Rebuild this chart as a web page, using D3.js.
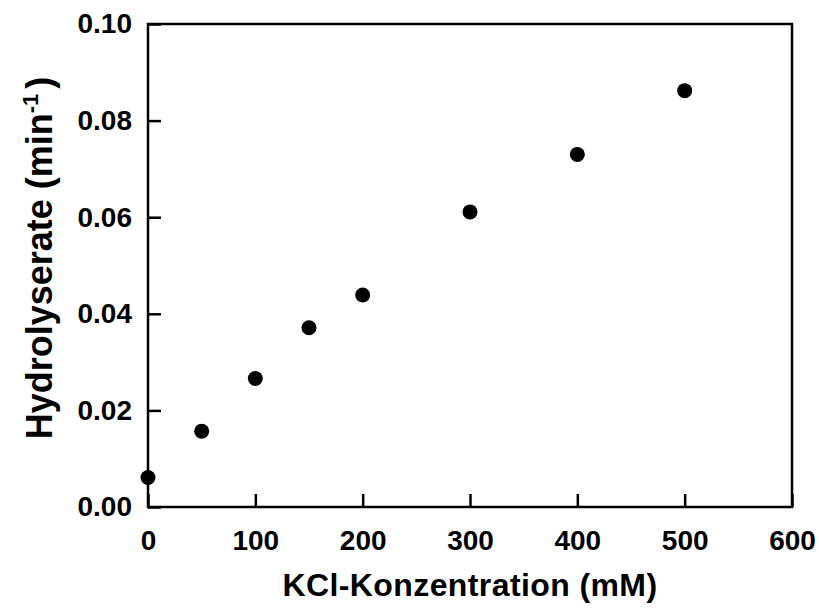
<!DOCTYPE html>
<html>
<head>
<meta charset="utf-8">
<script src="https://cdn.jsdelivr.net/npm/d3@7"></script>
<style>
  body { margin: 0; background: #fff; }
  svg text { font-family: "Liberation Sans", Arial, sans-serif; font-weight: bold; fill: #000; }
</style>
</head>
<body>
<div id="chart"></div>
<script>
// KCl concentration (mM) and hydrolysis rate (1/min)
const kcl = [0, 50, 100, 150, 200, 300, 400, 500];
const rate = [0.0061, 0.0157, 0.0266, 0.0371, 0.0439, 0.0611, 0.0730, 0.0862];
const xTicks = [0, 100, 200, 300, 400, 500, 600];
const yTicks = [0.00, 0.02, 0.04, 0.06, 0.08, 0.10];

const W = 819, H = 615;
const margin = { top: 24, right: 27, bottom: 108, left: 148 };

const svg = d3.select("#chart").append("svg")
    .attr("width", W)
    .attr("height", H);

const x = d3.scaleLinear().domain([0, 600]).range([margin.left, W - margin.right]);
const y = d3.scaleLinear().domain([0, 0.10]).range([H - margin.bottom, margin.top]);

// frame
svg.append("rect")
    .attr("x", x(0)).attr("y", y(0.10))
    .attr("width", x(600) - x(0))
    .attr("height", y(0) - y(0.10))
    .attr("fill", "none")
    .attr("stroke", "#000")
    .attr("stroke-width", 2.5);

// x axis, ticks inward
const xAxis = svg.append("g")
    .attr("transform", "translate(0," + y(0) + ")")
    .call(d3.axisBottom(x).tickValues(xTicks).tickSizeInner(-13).tickSizeOuter(0).tickPadding(23));
xAxis.select(".domain").remove();
xAxis.selectAll("line").attr("stroke-width", 2.5);
xAxis.selectAll("text").style("font-size", "28px");

// y axis, ticks inward
const yAxis = svg.append("g")
    .attr("transform", "translate(" + x(0) + ",0)")
    .call(d3.axisLeft(y).tickValues(yTicks).tickFormat(d3.format(".2f")).tickSizeInner(-13).tickSizeOuter(0).tickPadding(16));
yAxis.select(".domain").remove();
yAxis.selectAll("line").attr("stroke-width", 2.5);
yAxis.selectAll("text").style("font-size", "28px");

// points
svg.selectAll("circle.pt")
    .data(kcl)
    .enter()
    .append("circle")
    .attr("class", "pt")
    .attr("cx", (d, i) => x(d))
    .attr("cy", (d, i) => y(rate[i]))
    .attr("r", 7.5)
    .attr("fill", "#000");

// axis titles
svg.append("text")
    .attr("x", (x(0) + x(600)) / 2)
    .attr("y", 596)
    .attr("text-anchor", "middle")
    .style("font-size", "32px")
    .style("letter-spacing", "0.4px")
    .text("KCl-Konzentration (mM)");

const yt = svg.append("text")
    .attr("transform", "translate(52,258) rotate(-90)")
    .attr("text-anchor", "middle")
    .style("font-size", "36px");
yt.append("tspan").text("Hydrolyserate (min");
yt.append("tspan").attr("dy", -14).style("font-size", "22px").text("-1");
yt.append("tspan").attr("dy", 14).attr("dx", 5).text(")");
</script>
</body>
</html>
